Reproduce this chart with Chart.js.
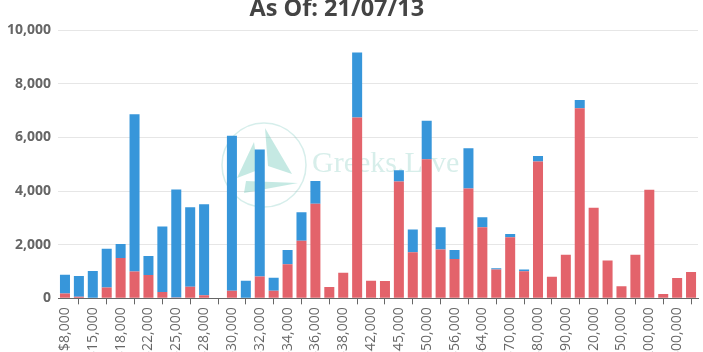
<!DOCTYPE html>
<html>
<head>
<meta charset="utf-8">
<script src="https://cdn.jsdelivr.net/npm/chart.js@4"></script>
<style>
  html, body { margin: 0; padding: 0; overflow: hidden; background: #fff; }
  #wrap { position: absolute; left: 0; top: -8px; width: 703px; height: 378px; }
</style>
</head>
<body>
<div id="wrap"><canvas id="myChart"></canvas></div>
<script>
const strikes = ['$8,000', '$10,000', '$15,000', '$16,000', '$18,000', '$20,000', '$22,000', '$24,000',
    '$25,000', '$26,000', '$28,000', '$29,000', '$30,000', '$31,000', '$32,000', '$33,000',
    '$34,000', '$35,000', '$36,000', '$37,000', '$38,000', '$40,000', '$42,000', '$44,000',
    '$45,000', '$48,000', '$50,000', '$52,000', '$56,000', '$60,000', '$64,000', '$65,000',
    '$70,000', '$75,000', '$80,000', '$85,000', '$90,000', '$100,000', '$120,000', '$140,000',
    '$150,000', '$160,000', '$200,000', '$250,000', '$300,000', '$400,000'];

// red, bottom of each stack
const callOI = [180, 60, 0, 400, 1500, 1000, 870, 240, 30, 430, 120, 0, 280, 0, 810, 280,
    1270, 2150, 3530, 420, 955, 6740, 655, 650, 4360, 1720, 5190, 1820, 1470, 4100, 2650, 1080,
    2280, 1010, 5100, 805, 1630, 7090, 3380, 1410, 455, 1630, 4050, 160, 760, 985];

// blue, stacked on top
const putOI = [700, 770, 1020, 1450, 530, 5870, 710, 2440, 4030, 2970, 3390, 0, 5780, 655, 4740, 490,
    530, 1060, 845, 0, 0, 2430, 0, 0, 415, 845, 1430, 830, 335, 1500, 375, 40,
    120, 70, 210, 0, 0, 310, 0, 0, 0, 0, 0, 0, 0, 0];

const yTicks = [0, 2000, 4000, 6000, 8000, 10000];

// faint logo behind the bars
const watermark = {
    id: 'watermark',
    beforeDatasetsDraw(chart) {
        const ctx = chart.ctx;
        const dy = 8;
        ctx.save();
        ctx.strokeStyle = 'rgba(120,200,190,0.3)';
        ctx.lineWidth = 1.5;
        ctx.beginPath();
        ctx.arc(264, 165 + dy, 42, 0, Math.PI * 2);
        ctx.stroke();
        ctx.fillStyle = 'rgba(110,200,185,0.4)';
        ctx.beginPath();
        ctx.moveTo(265, 128 + dy); ctx.lineTo(292, 174 + dy); ctx.lineTo(268, 166 + dy); ctx.closePath();
        ctx.fill();
        ctx.beginPath();
        ctx.moveTo(254, 142 + dy); ctx.lineTo(237, 178 + dy); ctx.lineTo(258, 170 + dy); ctx.closePath();
        ctx.fill();
        ctx.beginPath();
        ctx.moveTo(246, 181 + dy); ctx.lineTo(298, 183 + dy); ctx.lineTo(244, 193 + dy); ctx.closePath();
        ctx.fill();
        ctx.fillStyle = 'rgba(140,205,195,0.35)';
        ctx.font = '30px "Liberation Serif", serif';
        ctx.textBaseline = 'middle';
        ctx.fillText('Greeks.Live', 312, 164 + dy);
        ctx.restore();
    }
};

const ctx = document.getElementById('myChart').getContext('2d');
const myChart = new Chart(ctx, {
    type: 'bar',
    data: {
        labels: strikes,
        datasets: [{
            label: 'Calls',
            data: callOI,
            backgroundColor: '#e3636b',
            stack: 'oi'
        }, {
            label: 'Puts',
            data: putOI,
            backgroundColor: '#3796da',
            stack: 'oi'
        }]
    },
    options: {
        responsive: true,
        maintainAspectRatio: false,
        animation: false,
        layout: { padding: { left: 0, right: 5 } },
        plugins: {
            legend: { display: false },
            tooltip: { enabled: false },
            title: {
                display: true,
                text: 'As Of: 21/07/13    ',
                color: '#444',
                font: { family: 'Open Sans', size: 23.5, weight: 'bold' },
                padding: { top: 3, bottom: 7 }
            }
        },
        scales: {
            x: {
                stacked: true,
                border: { display: true, color: '#666', width: 1 },
                grid: { display: true, drawOnChartArea: false, color: '#666', tickLength: 6 },
                ticks: {
                    color: '#666',
                    maxRotation: 90,
                    minRotation: 90,
                    font: { family: 'Open Sans', size: 14 }
                }
            },
            y: {
                stacked: true,
                min: yTicks[0],
                max: yTicks[yTicks.length - 1],
                border: { display: false },
                grid: { color: '#e6e6e6', drawTicks: false },
                ticks: {
                    stepSize: 2000,
                    padding: 7,
                    color: '#666',
                    font: { family: 'Open Sans', size: 14, weight: 'bold' }
                }
            }
        }
    },
    plugins: [watermark]
});
</script>
</body>
</html>
